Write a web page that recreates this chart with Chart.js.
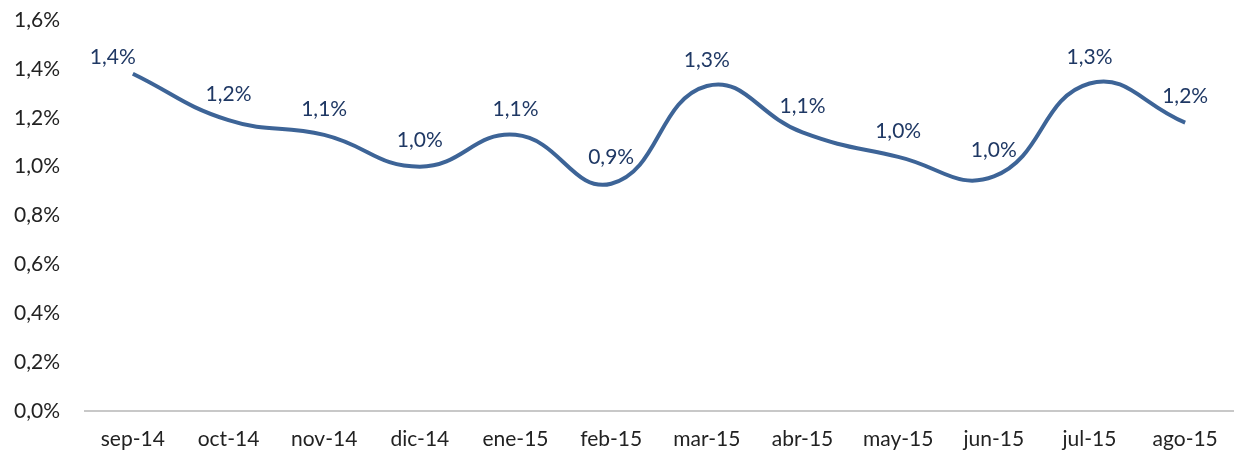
<!DOCTYPE html>
<html>
<head>
<meta charset="utf-8">
<script src="https://cdn.jsdelivr.net/npm/chart.js@4/dist/chart.umd.min.js"></script>
<style>
  html, body { margin: 0; padding: 0; background: #fff; }
  #wrap { width: 1235px; height: 461px; position: relative; }
</style>
</head>
<body>
<div id="wrap"><canvas id="grafico"></canvas></div>
<script>
// datos (porcentaje)
const meses = ["sep-14", "oct-14", "nov-14", "dic-14", "ene-15", "feb-15",
               "mar-15", "abr-15", "may-15", "jun-15", "jul-15", "ago-15"];
const valores = [1.38, 1.19, 1.13, 1.00, 1.13, 0.93, 1.33, 1.14, 1.04, 0.96, 1.34, 1.18];
const etiquetas = ["1,4%", "1,2%", "1,1%", "1,0%", "1,1%", "0,9%",
                   "1,3%", "1,1%", "1,0%", "1,0%", "1,3%", "1,2%"];

const fuente = "Lato, 'Open Sans', sans-serif";

// etiquetas de datos encima de cada punto
const etiquetasPlugin = {
    id: "etiquetasDatos",
    afterDatasetsDraw(chart) {
        const ctx = chart.ctx;
        const meta = chart.getDatasetMeta(0);
        ctx.save();
        ctx.font = "21px " + fuente;
        ctx.fillStyle = "#1F3864";
        ctx.textAlign = "center";
        ctx.textBaseline = "middle";
        meta.data.forEach((pt, i) => {
            let dx = 0, dy = -26;
            if (i === 0) { dx = -20; dy = -17; }
            ctx.fillText(etiquetas[i], pt.x + dx, pt.y + dy);
        });
        ctx.restore();
    }
};

const ctx = document.getElementById("grafico").getContext("2d");

new Chart(ctx, {
    type: "line",
    data: {
        labels: meses,
        datasets: [{
            data: valores,
            borderColor: "#3D6497",
            borderWidth: 4,
            tension: 0.45,
            pointRadius: 0,
            fill: false
        }]
    },
    options: {
        responsive: true,
        maintainAspectRatio: false,
        animation: false,
        layout: { padding: { top: 20, right: 2, left: 0, bottom: 0 } },
        plugins: {
            legend: { display: false },
            tooltip: { enabled: false }
        },
        scales: {
            y: {
                min: 0,
                max: 1.6,
                afterFit: s => { s.width = 85; s.paddingTop = 0; s.paddingBottom = 0; },
                ticks: {
                    stepSize: 0.2,
                    padding: 25,
                    color: "#222",
                    font: { family: fuente, size: 21 },
                    callback: v => v.toFixed(1).replace(".", ",") + "%"
                },
                grid: { display: false, drawTicks: false },
                border: { display: false }
            },
            x: {
                offset: true,
                afterFit: s => { s.height = 50; },
                ticks: {
                    padding: 16,
                    color: "#222",
                    font: { family: fuente, size: 21 },
                    maxRotation: 0,
                    autoSkip: false
                },
                grid: { display: false, drawTicks: false, offset: true },
                border: { display: true, color: "#C8C8C8", width: 2 }
            }
        }
    },
    plugins: [etiquetasPlugin]
});
</script>
</body>
</html>
